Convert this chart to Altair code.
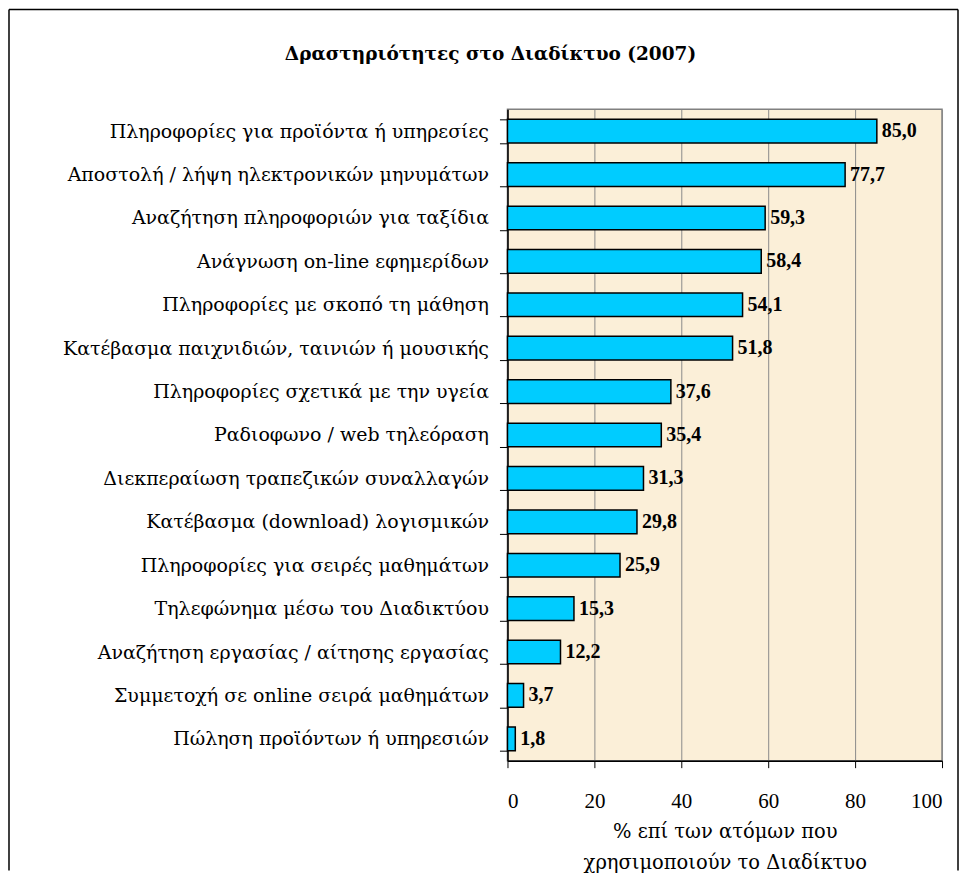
import altair as alt
import pandas as pd

categories = [
    "Πληροφορίες για προϊόντα ή υπηρεσίες",
    "Αποστολή / λήψη ηλεκτρονικών μηνυμάτων",
    "Αναζήτηση πληροφοριών για ταξίδια",
    "Ανάγνωση  on-line εφημερίδων",
    "Πληροφορίες με σκοπό τη μάθηση",
    "Κατέβασμα παιχνιδιών, ταινιών ή μουσικής",
    "Πληροφορίες σχετικά με την υγεία",
    "Ραδιοφωνο / web τηλεόραση",
    "Διεκπεραίωση τραπεζικών συναλλαγών",
    "Κατέβασμα (download) λογισμικών",
    "Πληροφορίες για σειρές μαθημάτων",
    "Τηλεφώνημα μέσω του Διαδικτύου",
    "Αναζήτηση εργασίας / αίτησης εργασίας",
    "Συμμετοχή σε online σειρά μαθημάτων",
    "Πώληση προϊόντων ή υπηρεσιών",
]
values = [85.0, 77.7, 59.3, 58.4, 54.1, 51.8, 37.6, 35.4, 31.3, 29.8, 25.9, 15.3, 12.2, 3.7, 1.8]
x_ticks = [0, 20, 40, 60, 80, 100]
title_text = "Δραστηριότητες στο Διαδίκτυο  (2007)"
x_title = ["% επί των ατόμων που", "χρησιμοποιούν το Διαδίκτυο"]

df = pd.DataFrame({"cat": categories, "val": values})
df["label"] = df["val"].map(lambda v: f"{v:.1f}".replace(".", ","))

GREEK = "DejaVu Serif"
DIGITS = "Liberation Serif"
W, H = 435, 652

y_enc = alt.Y(
    "cat:N", sort=categories, title=None,
    scale=alt.Scale(paddingInner=0.455, paddingOuter=0.23),
    axis=alt.Axis(labelFont=GREEK, labelFontSize=19, labelColor="black", labelLimit=600,
                  labelPadding=11, tickBand="extent", tickSize=8, tickColor="black",
                  domainColor="black", domainWidth=1.5, grid=False),
)
x_enc = alt.X(
    "val:Q", scale=alt.Scale(domain=[0, 100], nice=False),
    axis=alt.Axis(values=x_ticks, title=x_title, titleFont=GREEK, titleFontSize=19.5,
                  titleFontWeight="normal", titleColor="black", titleLineHeight=31,
                  titlePadding=11, labelFont=DIGITS, labelFontSize=21, labelColor="black",
                  labelPadding=23, tickSize=7, tickColor="black", domainColor="black",
                  domainWidth=1.5, grid=True, gridColor="#8a8a8a", gridWidth=1),
)

bars = alt.Chart(df).mark_bar(color="#00CCFF", stroke="black", strokeWidth=1.5).encode(
    x=x_enc, y=y_enc)
labels = alt.Chart(df).mark_text(
    align="left", baseline="middle", dx=5, font=DIGITS, fontSize=20, fontWeight="bold",
    color="black").encode(x="val:Q", y=alt.Y("cat:N", sort=categories), text="label:N")

one = pd.DataFrame({"t": [title_text]})
title = alt.Chart(one).mark_text(font=GREEK, fontSize=18.5, fontWeight="bold", color="black").encode(
    x=alt.value(-17), y=alt.value(-55), text="t:N")

L, R, T, B = -499, 451, -100, 762
left = alt.Chart(one).mark_rule(color="black", strokeWidth=1.5).encode(
    x=alt.value(L), y=alt.value(T), y2=alt.value(B))
top = alt.Chart(one).mark_rule(color="black", strokeWidth=1.5).encode(
    x=alt.value(L), x2=alt.value(R), y=alt.value(T))
right = alt.Chart(one).mark_rule(color="black", strokeWidth=1.5).encode(
    x=alt.value(R), y=alt.value(T), y2=alt.value(B))

chart = alt.layer(bars, labels, title, left, top, right).properties(
    width=W, height=H, padding=0, background="white"
).configure_view(fill="#FBEFD8", stroke="#808080", strokeWidth=1.5)

chart.save("out.html", embed_options={"renderer": "svg", "actions": False})
